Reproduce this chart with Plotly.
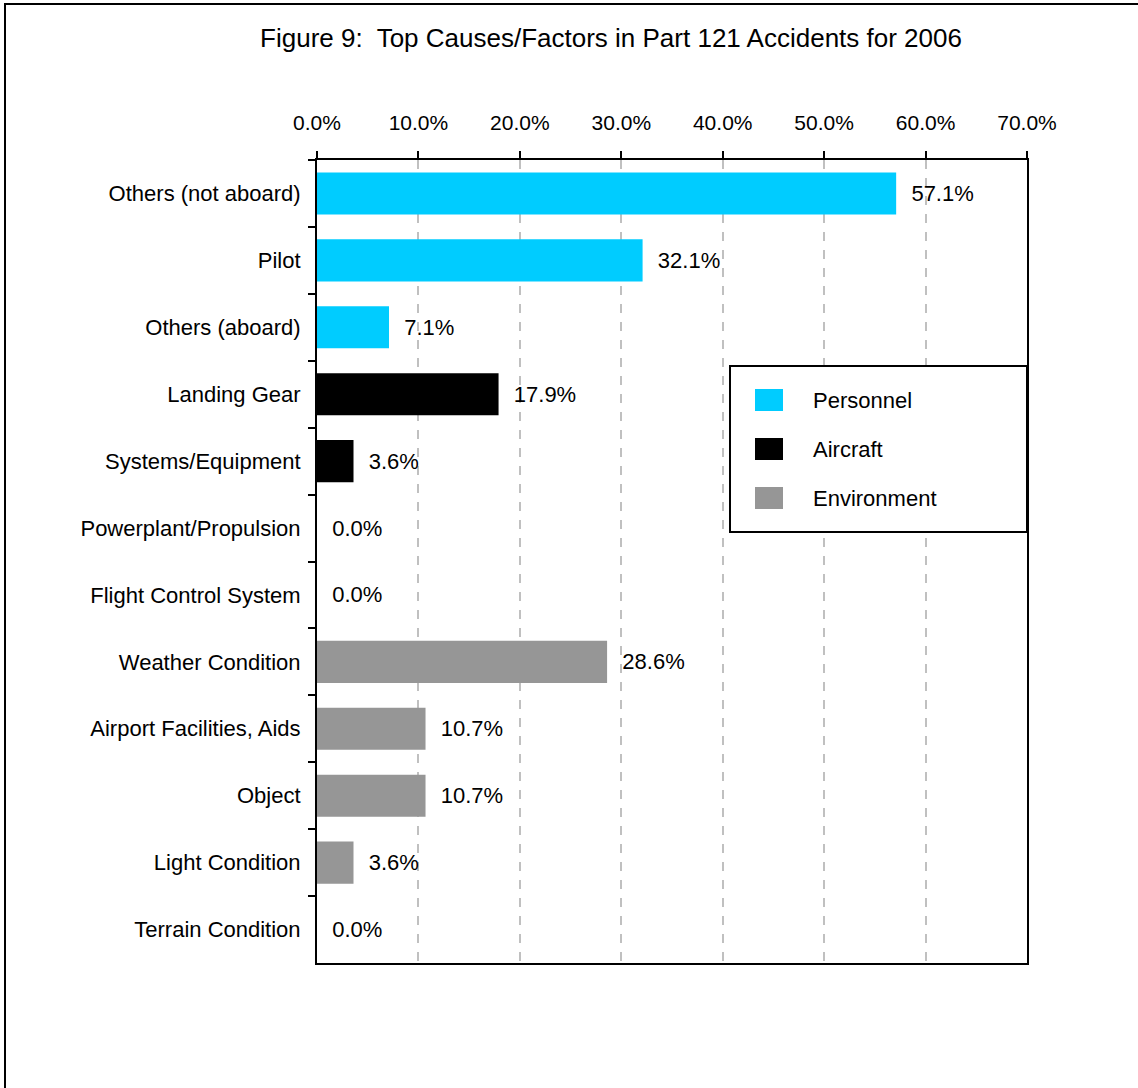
import plotly.graph_objects as go

# ---- data ----
categories = ["Others (not aboard)", "Pilot", "Others (aboard)",
              "Landing Gear", "Systems/Equipment", "Powerplant/Propulsion",
              "Flight Control System", "Weather Condition",
              "Airport Facilities, Aids", "Object", "Light Condition",
              "Terrain Condition"]
groups = ["Personnel", "Personnel", "Personnel",
          "Aircraft", "Aircraft", "Aircraft", "Aircraft",
          "Environment", "Environment", "Environment", "Environment", "Environment"]
values = [57.1, 32.1, 7.1, 17.9, 3.6, 0.0, 0.0, 28.6, 10.7, 10.7, 3.6, 0.0]
group_names = ["Personnel", "Aircraft", "Environment"]
group_colors = ["#00CCFF", "#000000", "#969696"]
x_ticks = [0, 10, 20, 30, 40, 50, 60, 70]

FONT = "Arial, Liberation Sans, Helvetica, sans-serif"

W, H = 1138, 1088
L, R, T, B = 317, 1027, 160, 963


def px(xp):
    return (xp - L) / (R - L)


def py(yp):
    return (B - yp) / (B - T)


fig = go.Figure()
for g, c in zip(group_names, group_colors):
    ys = [cat for cat, gg in zip(categories, groups) if gg == g]
    xs = [v for v, gg in zip(values, groups) if gg == g]
    fig.add_trace(go.Bar(
        y=ys, x=xs, orientation="h", name=g,
        marker=dict(color=c, line=dict(width=0)),
        texttemplate="\u00a0\u00a0%{x:.1f}%", textposition="outside",
        textfont=dict(family=FONT, size=22, color="black"),
        cliponaxis=False, showlegend=False,
    ))

shapes = [
    # outer frame
    dict(type="rect", xref="paper", yref="paper",
         x0=px(5), x1=px(1150), y0=py(1100), y1=py(4),
         line=dict(color="black", width=2), fillcolor="rgba(0,0,0,0)", layer="below"),
    # legend box
    dict(type="rect", xref="paper", yref="paper",
         x0=px(730), x1=px(1027), y0=py(532), y1=py(366),
         line=dict(color="black", width=2), fillcolor="white", layer="above"),
]
annotations = []
legend_centers = [400, 449, 498]
for name, col, cy in zip(group_names, group_colors, legend_centers):
    shapes.append(dict(type="rect", xref="paper", yref="paper",
                       x0=px(755), x1=px(783), y0=py(cy + 11), y1=py(cy - 11),
                       line=dict(width=0), fillcolor=col, layer="above"))
    annotations.append(dict(xref="paper", yref="paper", x=px(811), y=py(cy),
                            text=name, showarrow=False, xanchor="left", yanchor="middle",
                            font=dict(family=FONT, size=22, color="black")))

fig.update_layout(
    width=W, height=H,
    margin=dict(l=L, r=W - R, t=T, b=H - B, pad=0),
    paper_bgcolor="white", plot_bgcolor="white",
    barmode="overlay", bargap=0.37,
    font=dict(family=FONT, size=22, color="black"),
    title=dict(text="Figure 9:\u00a0 Top Causes/Factors in Part 121 Accidents for 2006",
               x=611 / W, xanchor="center", xref="container",
               y=1 - 38 / H, yanchor="middle", yref="container",
               font=dict(family=FONT, size=26, color="black")),
    shapes=shapes, annotations=annotations,
    xaxis=dict(side="top", range=[0, 70], tickvals=x_ticks,
               ticktext=[f"{t:.1f}%" for t in x_ticks],
               showgrid=True, gridcolor="#c0c0c0", griddash="dash", gridwidth=1.5,
               showline=True, linecolor="black", linewidth=2, mirror=True,
               ticks="outside", ticklen=7, tickwidth=2, tickcolor="black",
               ticklabelstandoff=13, zeroline=False,
               tickfont=dict(family=FONT, size=21, color="black")),
    yaxis=dict(categoryorder="array", categoryarray=categories, autorange="reversed",
               showgrid=False, showline=True, linecolor="black", linewidth=2, mirror=True,
               ticks="outside", tickson="boundaries", ticklen=7, tickwidth=2,
               tickcolor="black", ticklabelstandoff=10,
               tickfont=dict(family=FONT, size=22, color="black")),
)

fig.write_html("out.html")
